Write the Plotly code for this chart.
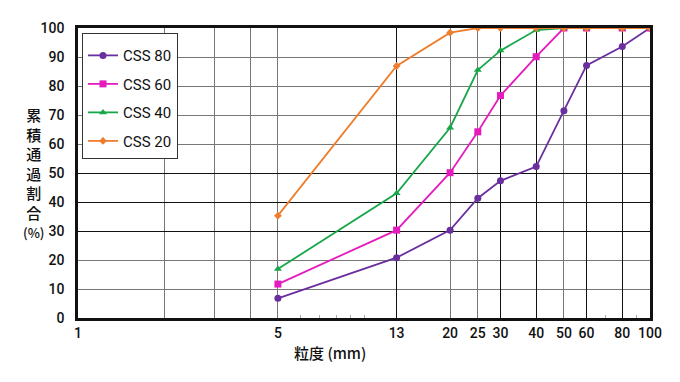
import plotly.graph_objects as go

sizes = [5, 13, 20, 25, 30, 40, 50, 60, 80, 100]
css80 = [6.8, 20.8, 30.3, 41.3, 47.3, 52.2, 71.5, 87.1, 93.6, 100]
css60 = [11.7, 30.3, 50.1, 64.2, 76.7, 90.1, 100, 100, 100, 100]
css40 = [16.9, 43.0, 65.6, 85.5, 92.2, 99.3, 100, 100, 100, 100]
css20 = [35.3, 86.9, 98.4, 100, 100, 100, 100, 100, 100, 100]

series_names = ["CSS 80", "CSS 60", "CSS 40", "CSS 20"]
series_vals = [css80, css60, css40, css20]
colors = ["#6a2f9e", "#e41bbd", "#18a64a", "#ee7d2d"]
symbols = ["circle", "square", "triangle-up", "diamond"]
msizes = [7, 7, 7, 6]

x_tickvals = [1, 2, 3, 4, 5, 13, 20, 25, 30, 40, 50, 60, 80, 100]
x_ticktext = ["1", "", "", "", "5", "13", "20", "25", "30", "40", "50", "60", "80", "100"]
x_dark = [13, 30, 40, 60, 80]
x_minor = [6, 7, 8, 9, 10, 70, 90]
y_tickvals = [0, 10, 20, 30, 40, 50, 60, 70, 80, 90, 100]
y_dark = [30, 40, 50]

fig = go.Figure()
for i, (name, vals) in enumerate(zip(series_names, series_vals)):
    fig.add_trace(go.Scatter(
        x=sizes, y=vals, name=name, mode="lines+markers",
        legendgroup=name,
        line=dict(color=colors[i], width=1.8),
        marker=dict(symbol=symbols[i], size=msizes[i], color=colors[i]),
    ))

# invisible trace on overlay axes to host dark grid lines
fig.add_trace(go.Scatter(x=[1, 100], y=[0, 100], xaxis="x2", yaxis="y2",
                         mode="markers", marker=dict(opacity=0), showlegend=False,
                         hoverinfo="skip"))

font_main = "Roboto, Arial, sans-serif"
fig.update_layout(
    width=680, height=382,
    margin=dict(l=78, r=30, t=28, b=64),
    paper_bgcolor="white", plot_bgcolor="white",
    font=dict(family=font_main, size=14, color="#111", weight=500),
    xaxis=dict(
        type="log", range=[0, 2],
        tickmode="array", tickvals=x_tickvals, ticktext=x_ticktext,
        showgrid=True, gridcolor="#777", gridwidth=1.3,
        showline=True, linecolor="#111", linewidth=2.5, mirror=True,
        ticks="", zeroline=False,
        minor=dict(tickmode="array", tickvals=x_minor, ticks="inside",
                   ticklen=3, tickcolor="#aaa", showgrid=False),
    ),
    yaxis=dict(
        range=[0, 100], tickmode="array", tickvals=y_tickvals,
        showgrid=True, gridcolor="#777", gridwidth=1.3,
        showline=True, linecolor="#111", linewidth=2.5, mirror=True,
        ticks="", zeroline=False, ticklabelstandoff=8,
    ),
    xaxis2=dict(
        type="log", range=[0, 2], overlaying="x", tickmode="array",
        tickvals=x_dark, showticklabels=False, showgrid=True,
        gridcolor="#111", gridwidth=1.3, ticks="", zeroline=False,
        showline=False,
    ),
    yaxis2=dict(
        range=[0, 100], overlaying="y", tickmode="array",
        tickvals=y_dark, showticklabels=False, showgrid=True,
        gridcolor="#111", gridwidth=1.3, ticks="", zeroline=False,
        showline=False,
    ),
    legend=dict(
        x=0.007, y=0.983, xanchor="left", yanchor="top",
        bgcolor="white", bordercolor="#333", borderwidth=1,
        font=dict(family=font_main, size=15, color="#111", weight=400),
        tracegroupgap=6, traceorder="grouped",
        title=dict(text=" ", font=dict(size=4)),
    ),
    showlegend=True,
)

fig.add_annotation(
    text="累<br>積<br>通<br>過<br>割<br>合<br><span style='font-size:13px'>(%)</span>",
    xref="paper", yref="paper", x=-0.078, y=0.5, xanchor="center", yanchor="middle",
    showarrow=False, align="center",
    font=dict(family="Noto Sans CJK JP, " + font_main, size=15, color="#111"),
)
fig.add_annotation(
    text="粒度 (mm)", xref="paper", yref="paper", x=0.44, y=-0.075,
    xanchor="center", yanchor="top", showarrow=False,
    font=dict(family="Noto Sans CJK JP, " + font_main, size=15, color="#111"),
)

fig.write_html("out.html")
